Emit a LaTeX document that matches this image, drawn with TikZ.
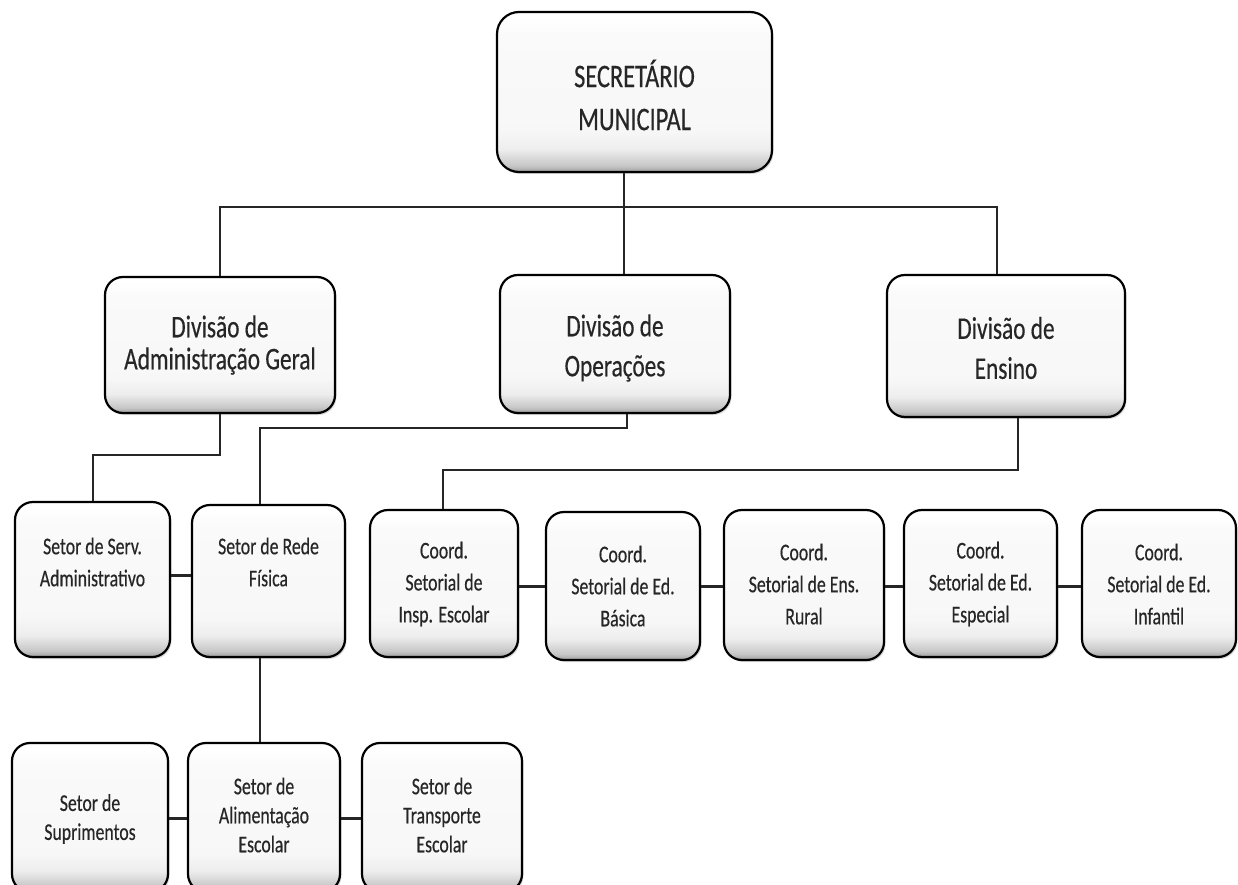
\documentclass[tikz,border=0pt]{standalone}
\usepackage{fontspec}
\setmainfont{Carlito}[FakeStretch=0.74, FakeBold=0.4]
\usetikzlibrary{shadows}
\pgfdeclareverticalshading{boxshade}{100bp}{color(0bp)=(black!38); color(25bp)=(black!38); color(27bp)=(black!22); color(32bp)=(black!7); color(38bp)=(black!3); color(68bp)=(black!2); color(73bp)=(white); color(100bp)=(white)}
\tikzset{
  box/.style={draw=black, line width=2.2pt, rounded corners=18pt, shade, shading=boxshade,
    drop shadow={shadow xshift=1.5pt, shadow yshift=-2pt, opacity=0.3}},
  bigtxt/.style={align=center, text=black!85, inner sep=0pt, font=\fontsize{33}{43}\selectfont},
  divtxt/.style={align=center, text=black!85, inner sep=0pt, font=\fontsize{31.5}{40}\selectfont},
  smalltxt/.style={align=center, text=black!85, inner sep=0pt, font=\fontsize{24}{32}\selectfont},
  bottxt/.style={align=center, text=black!85, inner sep=0pt, font=\fontsize{24}{29}\selectfont},
  conn/.style={line width=2pt, draw=black!85},
  thick conn/.style={line width=3pt, draw=black!85},
}
\begin{document}
\begin{tikzpicture}[x=1pt,y=-1pt]
\useasboundingbox (0,0) rectangle (1238,885);
% boxes
\node[box, rounded corners=22pt, minimum width=275pt, minimum height=160pt] (top) at (634.5,92) {};
\node[bigtxt] (top-t) at (634.5,95) {SECRETÁRIO\\MUNICIPAL};

\node[box, minimum width=230pt, minimum height=136pt] (divA) at (220,345) {};
\node[divtxt, font=\fontsize{31.5}{32}\selectfont] (divA-t) at (220,345) {Divisão de\\Administração Geral};
\node[box, minimum width=230pt, minimum height=138pt] (divO) at (615,344) {};
\node[divtxt] (divO-t) at (615,348) {Divisão de\\Operações};
\node[box, minimum width=238pt, minimum height=142pt] (divE) at (1006,346) {};
\node[divtxt] (divE-t) at (1006,348) {Divisão de\\Ensino};

\node[box, minimum width=155pt, minimum height=155pt] (sa) at (92.5,579.5) {};
\node[smalltxt] (sa-t) at (92.5,562) {Setor de\,Serv.\\Administrativo};
\node[box, minimum width=153pt, minimum height=152pt] (rf) at (268.5,581) {};
\node[smalltxt] (rf-t) at (268.5,562) {Setor de Rede\\Física};

\node[box, minimum width=148pt, minimum height=147pt] (c1) at (444,583.5) {};
\node[smalltxt] (c1-t) at (444,584) {Coord.\\Setorial de\\Insp. Escolar};
\node[box, minimum width=154pt, minimum height=148pt] (c2) at (623,586) {};
\node[smalltxt] (c2-t) at (623,586) {Coord.\\Setorial de Ed.\\Básica};
\node[box, minimum width=160pt, minimum height=150pt] (c3) at (804,585) {};
\node[smalltxt] (c3-t) at (804,584) {Coord.\\Setorial de Ens.\\Rural};
\node[box, minimum width=153pt, minimum height=147pt] (c4) at (980.5,583.5) {};
\node[smalltxt] (c4-t) at (980.5,584) {Coord.\\Setorial de\,Ed.\\Especial};
\node[box, minimum width=154pt, minimum height=147pt] (c5) at (1159,583.5) {};
\node[smalltxt] (c5-t) at (1159,584) {Coord.\\Setorial de\,Ed.\\Infantil};

\node[box, minimum width=156pt, minimum height=149pt] (su) at (90,817.5) {};
\node[bottxt] (su-t) at (90,819) {Setor de\\Suprimentos};
\node[box, minimum width=152pt, minimum height=149pt] (al) at (264,817.5) {};
\node[bottxt] (al-t) at (264,815) {Setor de\\Alimentação\\Escolar};
\node[box, minimum width=160pt, minimum height=149pt] (tr) at (442,817.5) {};
\node[bottxt] (tr-t) at (442,815) {Setor de\\Transporte\\Escolar};

% junction coordinates
\coordinate (j0) at (624,207);
\coordinate (jA) at (220,207);
\coordinate (jE) at (997,207);
\coordinate (k1) at (220,455);
\coordinate (k1s) at (92.5,455);
\coordinate (k2) at (627,428);
\coordinate (k2s) at (260,428);
\coordinate (k3) at (1018,470);
\coordinate (k3s) at (443,470);
\coordinate (h1) at (0,575);
\coordinate (h2) at (0,586);
\coordinate (h3) at (0,818);

% connectors
\draw[conn] (j0 |- top.south) -- (j0 |- divO.north);
\draw[conn] (jA |- divA.north) -- (jA) -- (jE) -- (jE |- divE.north);
\draw[conn] (k1 |- divA.south) -- (k1) -- (k1s) -- (k1s |- sa.north);
\draw[conn] (k2 |- divO.south) -- (k2) -- (k2s) -- (k2s |- rf.north);
\draw[conn] (k3 |- divE.south) -- (k3) -- (k3s) -- (k3s |- c1.north);
\draw[conn] (k2s |- rf.south) -- (k2s |- al.north);

\draw[thick conn] (sa.east |- h1) -- (rf.west |- h1);
\draw[thick conn] (c1.east |- h2) -- (c2.west |- h2);
\draw[thick conn] (c2.east |- h2) -- (c3.west |- h2);
\draw[thick conn] (c3.east |- h2) -- (c4.west |- h2);
\draw[thick conn] (c4.east |- h2) -- (c5.west |- h2);
\draw[thick conn] (su.east |- h3) -- (al.west |- h3);
\draw[thick conn] (al.east |- h3) -- (tr.west |- h3);
\end{tikzpicture}
\end{document}
